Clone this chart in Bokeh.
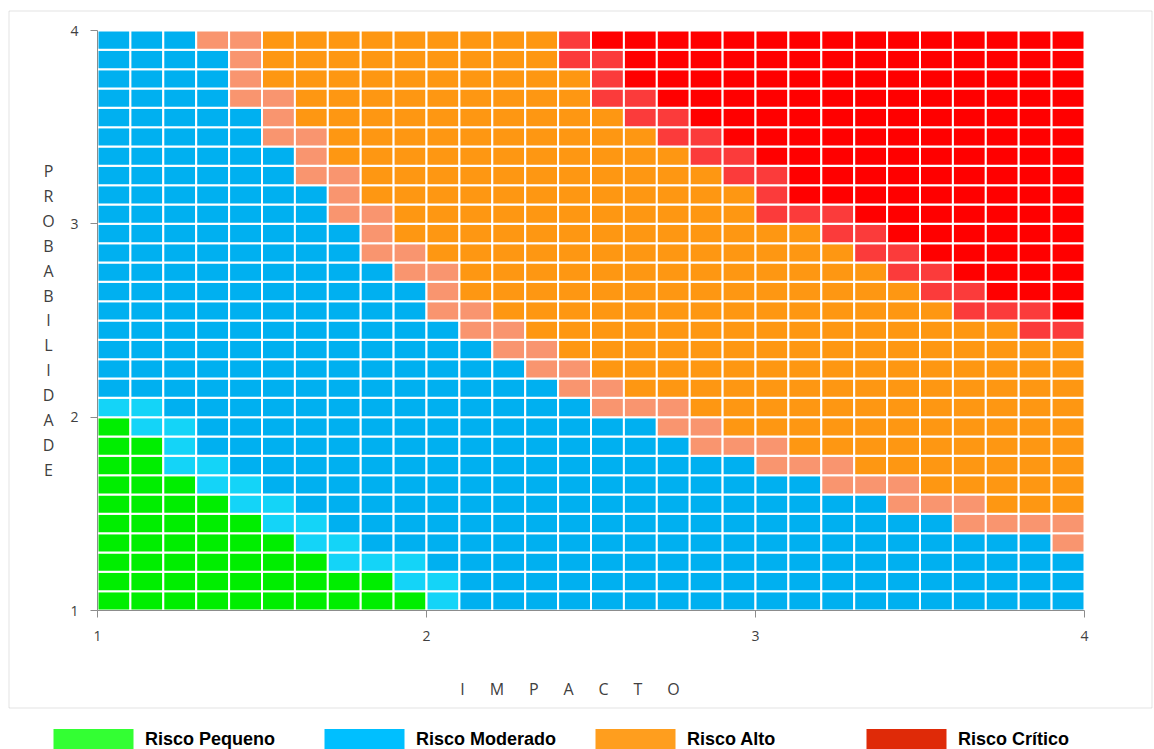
from bokeh.plotting import figure
from bokeh.models import (ColumnDataSource, Range1d, FixedTicker, Label, Legend,
                          LegendItem, BoxAnnotation, LinearAxis)
from bokeh.embed import file_html
from bokeh.resources import INLINE

# ---------------- data ----------------
# cell edges on both axes (impact / probability scale 1..4, 30 steps)
impacto_edges = [1.0, 1.1, 1.2, 1.3, 1.4, 1.5, 1.6, 1.7, 1.8, 1.9,
                 2.0, 2.1, 2.2, 2.3, 2.4, 2.5, 2.6, 2.7, 2.8, 2.9,
                 3.0, 3.1, 3.2, 3.3, 3.4, 3.5, 3.6, 3.7, 3.8, 3.9, 4.0]
probabilidade_edges = [1.0, 1.1, 1.2, 1.3, 1.4, 1.5, 1.6, 1.7, 1.8, 1.9,
                       2.0, 2.1, 2.2, 2.3, 2.4, 2.5, 2.6, 2.7, 2.8, 2.9,
                       3.0, 3.1, 3.2, 3.3, 3.4, 3.5, 3.6, 3.7, 3.8, 3.9, 4.0]

# for every impact column: number of probability rows (from the bottom)
# below which each class ends
green_top  = [10, 9, 7, 6, 5, 4, 3, 2, 2, 1,  0, 0, 0, 0, 0, 0, 0, 0, 0, 0,  0, 0, 0, 0, 0, 0, 0, 0, 0, 0]
cyan_top   = [11, 11, 10, 8, 7, 6, 5, 4, 3, 3,  2, 0, 0, 0, 0, 0, 0, 0, 0, 0,  0, 0, 0, 0, 0, 0, 0, 0, 0, 0]
blue_top   = [30, 30, 30, 29, 26, 24, 22, 20, 18, 17,  15, 14, 13, 12, 11, 10, 10, 9, 8, 8,  7, 7, 6, 6, 5, 5, 4, 4, 4, 3]
salmon_top = [30, 30, 30, 30, 30, 27, 25, 23, 21, 19,  18, 16, 15, 14, 13, 12, 11, 11, 10, 9,  9, 8, 8, 7, 7, 6, 6, 5, 5, 5]
orange_top = [30, 30, 30, 30, 30, 30, 30, 30, 30, 30,  30, 30, 30, 30, 28, 26, 25, 24, 23, 22,  20, 20, 19, 18, 17, 16, 15, 15, 14, 14]
lred_top   = [30, 30, 30, 30, 30, 30, 30, 30, 30, 30,  30, 30, 30, 30, 30, 29, 27, 26, 25, 24,  23, 21, 21, 20, 19, 18, 17, 16, 16, 15]

cell_colors = ["#00EE00", "#14D4F8", "#00B0F0", "#F9956F", "#FE9712", "#FB3B3B", "#FF0000"]

tick_values = [1, 2, 3, 4]
legend_labels = ["Risco Pequeno", "Risco Moderado", "Risco Alto", "Risco Crítico"]
legend_colors = ["#33FF33", "#00BFFF", "#FF9E1E", "#DF2A08"]
legend_classes = [0, 2, 4, 6]   # which cell class each legend entry stands for

# ---------------- build cells ----------------
left, right, bottom, top, color, klass = [], [], [], [], [], []
n_cols = len(impacto_edges) - 1
n_rows = len(probabilidade_edges) - 1
for i in range(n_cols):
    for j in range(n_rows):
        if j < green_top[i]:
            c = 0
        elif j < cyan_top[i]:
            c = 1
        elif j < blue_top[i]:
            c = 2
        elif j < salmon_top[i]:
            c = 3
        elif j < orange_top[i]:
            c = 4
        elif j < lred_top[i]:
            c = 5
        else:
            c = 6
        left.append(impacto_edges[i])
        right.append(impacto_edges[i + 1])
        bottom.append(probabilidade_edges[j])
        top.append(probabilidade_edges[j + 1])
        color.append(cell_colors[c])
        klass.append(c)

src = ColumnDataSource(dict(left=left, right=right, bottom=bottom, top=top, color=color))

# ---------------- figure: the frame fills the whole canvas ----------------
W, H = 1154, 749
# grid area on the canvas: x 97..1084, y 30..610
GX0, GX1, GY0, GY1 = 97, 1084, 30, 610
def dx(px):
    return 1 + (px - GX0) * 3 / (GX1 - GX0)

def dy(py):
    return 4 - (py - GY0) * 3 / (GY1 - GY0)

p = figure(width=W, height=H, output_backend="svg", toolbar_location=None,
           x_range=Range1d(dx(0), dx(W)), y_range=Range1d(dy(H), dy(0)),
           x_axis_type=None, y_axis_type=None, min_border=0)
p.background_fill_color = "white"
p.border_fill_color = "white"
p.outline_line_color = None
p.grid.visible = False

p.quad(left="left", right="right", bottom="bottom", top="top", source=src,
       fill_color="color", line_color="white", line_width=2)

xax = LinearAxis(fixed_location=1, bounds=(1, 4))
yax = LinearAxis(fixed_location=1, bounds=(1, 4))
for ax in (xax, yax):
    ax.ticker = FixedTicker(ticks=tick_values)
    ax.minor_tick_line_color = None
    ax.major_tick_in = 0
    ax.major_tick_out = 7
    ax.axis_line_color = "#8c8c8c"
    ax.major_tick_line_color = "#8c8c8c"
    ax.major_label_text_font = "Open Sans"
    ax.major_label_text_font_size = "14px"
    ax.major_label_text_color = "#404040"
yax.major_label_standoff = 12
xax.major_label_standoff = 13
p.add_layout(xax, "below")
p.add_layout(yax, "left")

# axis titles
nb = "\u00a0" * 6
p.add_layout(Label(x=dx(569.5), y=dy(688), text=nb.join("IMPACTO"),
                   text_align="center", text_baseline="middle",
                   text_font="Open Sans", text_font_size="16px", text_color="#404040"))
p.add_layout(Label(x=dx(48), y=dy(320), text="\n".join("PROBABILIDADE"),
                   text_align="center", text_baseline="middle", text_line_height=1.135,
                   text_font="Open Sans", text_font_size="16px", text_color="#404040"))

# chart-area border
p.add_layout(BoxAnnotation(left=dx(8.5), right=dx(1151.5), top=dy(10.5), bottom=dy(707.5),
                           fill_alpha=0, line_color="#a3a3a3", line_width=1))

# legend: one (hidden) renderer per risk class, drawn in the legend colour
items = []
for lab, col, cls in zip(legend_labels, legend_colors, legend_classes):
    idx = [k for k, kk in enumerate(klass) if kk == cls]
    lsrc = ColumnDataSource(dict(left=[left[k] for k in idx], right=[right[k] for k in idx],
                                 bottom=[bottom[k] for k in idx], top=[top[k] for k in idx]))
    r = p.quad(left="left", right="right", bottom="bottom", top="top", source=lsrc,
               fill_color=col, line_color=None)
    r.visible = False
    items.append(LegendItem(label=lab, renderers=[r]))
leg = Legend(items=items, orientation="horizontal", location=(43, -3),
             glyph_width=100, glyph_height=26, label_standoff=2, label_width=169,
             label_height=26, spacing=0, padding=0, margin=0,
             border_line_color=None, background_fill_alpha=0,
             inactive_fill_alpha=0,
             label_text_font="Liberation Sans", label_text_font_style="bold",
             label_text_font_size="18px", label_text_color="black")
p.add_layout(leg, "center")

open("out.html", "w").write(file_html(p, INLINE))
